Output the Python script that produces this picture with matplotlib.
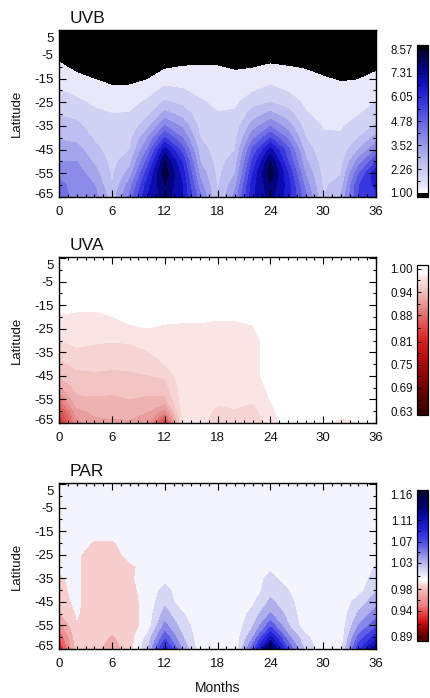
import numpy as np
import matplotlib
matplotlib.use("Agg")
import matplotlib.pyplot as plt
from matplotlib.colors import LinearSegmentedColormap, Normalize
from matplotlib.cm import ScalarMappable
from matplotlib.transforms import ScaledTranslation
from matplotlib.ticker import FixedLocator

plt.rcParams['font.family'] = ['Liberation Sans', 'DejaVu Sans']

# ---------------------------------------------------------------- data
months = np.arange(0, 37, 2)
latitudes = np.array([5.5, 0, -5, -10, -15, -20, -25, -30, -35, -40, -45, -50, -55, -60, -65])

# one list per month column, values from north (5.5) to south (-65)
uvb_by_month = [
    [0.27, 0.56, 0.84, 1.11, 1.38, 1.66, 1.95, 2.24, 2.53, 2.84, 3.17, 3.52, 3.97, 4.34, 4.47],
    [0.05, 0.24, 0.55, 0.84, 1.15, 1.44, 1.75, 2.07, 2.40, 2.68, 3.13, 3.52, 3.84, 3.90, 3.84],
    [0.05, 0.15, 0.43, 0.70, 0.98, 1.25, 1.52, 1.76, 1.97, 2.18, 2.45, 2.77, 3.15, 3.52, 3.84],
    [0.05, 0.07, 0.32, 0.59, 0.85, 1.11, 1.38, 1.64, 1.74, 1.85, 1.95, 2.05, 2.15, 2.24, 2.51],
    [0.05, 0.05, 0.28, 0.56, 0.84, 1.13, 1.40, 1.67, 1.87, 2.07, 2.26, 2.66, 3.15, 3.84, 4.34],
    [0.05, 0.05, 0.18, 0.57, 0.96, 1.35, 1.74, 2.11, 2.64, 3.44, 4.16, 4.98, 5.73, 6.36, 6.68],
    [0.05, 0.05, 0.49, 0.91, 1.34, 1.80, 2.34, 3.13, 4.16, 5.47, 6.99, 7.94, 8.38, 7.94, 7.63],
    [0.05, 0.33, 0.67, 1.01, 1.33, 1.68, 2.10, 2.64, 3.37, 4.16, 5.06, 5.96, 6.36, 6.68, 6.68],
    [0.33, 0.58, 0.80, 1.03, 1.26, 1.48, 1.69, 1.88, 2.07, 2.25, 2.58, 2.89, 3.33, 3.78, 4.34],
    [0.49, 0.68, 0.84, 1.01, 1.18, 1.35, 1.52, 1.66, 1.74, 1.83, 1.91, 2.00, 2.08, 2.16, 2.24],
    [0.33, 0.55, 0.74, 0.94, 1.13, 1.33, 1.52, 1.71, 1.90, 2.08, 2.25, 2.58, 2.90, 3.33, 3.78],
    [0.04, 0.37, 0.67, 0.96, 1.27, 1.56, 2.02, 2.55, 3.21, 3.97, 4.91, 5.54, 6.05, 6.43, 6.55],
    [0.05, 0.39, 0.74, 1.08, 1.42, 1.81, 2.27, 3.08, 4.09, 5.42, 6.92, 7.94, 8.38, 7.81, 7.50],
    [0.14, 0.44, 0.73, 1.01, 1.29, 1.57, 1.99, 2.51, 3.21, 4.00, 4.99, 5.42, 6.05, 6.36, 6.36],
    [0.40, 0.60, 0.77, 0.96, 1.13, 1.31, 1.49, 1.69, 1.98, 2.25, 2.62, 3.01, 3.46, 3.90, 4.34],
    [0.44, 0.60, 0.74, 0.88, 1.03, 1.16, 1.30, 1.45, 1.59, 1.71, 1.81, 1.92, 2.03, 2.14, 2.24],
    [0.34, 0.51, 0.66, 0.81, 0.96, 1.11, 1.26, 1.40, 1.56, 1.71, 1.87, 2.03, 2.20, 2.53, 2.96],
    [0.15, 0.38, 0.58, 0.78, 0.98, 1.18, 1.39, 1.59, 1.90, 2.25, 2.87, 3.76, 4.66, 5.35, 5.42],
    [0.14, 0.41, 0.65, 0.90, 1.14, 1.38, 1.64, 1.96, 2.33, 3.11, 4.11, 5.39, 6.55, 6.24, 5.73],
]

uva_by_month = [
    [1.0, 1.0, 1.0, 1.0, 0.990, 0.983, 0.976, 0.969, 0.960, 0.950, 0.938, 0.918, 0.888, 0.850, 0.815],
    [1.0, 1.0, 0.997, 0.992, 0.988, 0.982, 0.977, 0.973, 0.966, 0.957, 0.950, 0.943, 0.935, 0.918, 0.900],
    [1.0, 1.0, 0.998, 0.993, 0.987, 0.982, 0.977, 0.971, 0.965, 0.958, 0.951, 0.944, 0.936, 0.926, 0.918],
    [1.0, 1.0, 1.0, 0.998, 0.991, 0.984, 0.977, 0.970, 0.963, 0.957, 0.950, 0.943, 0.935, 0.928, 0.920],
    [1.0, 1.0, 1.0, 1.0, 0.999, 0.990, 0.981, 0.971, 0.964, 0.957, 0.951, 0.944, 0.938, 0.929, 0.920],
    [1.0, 1.0, 1.0, 1.0, 1.0, 0.992, 0.984, 0.976, 0.968, 0.961, 0.953, 0.945, 0.935, 0.923, 0.907],
    [1.0, 1.0, 1.0, 1.0, 1.0, 0.987, 0.983, 0.978, 0.974, 0.9695, 0.956, 0.946, 0.935, 0.900, 0.830],
    [1.0, 1.0, 1.0, 1.0, 1.0, 0.987, 0.982, 0.980, 0.979, 0.978, 0.978, 0.977, 0.976, 0.975, 0.974],
    [1.0, 1.0, 1.0, 1.0, 1.0, 0.987, 0.982, 0.978, 0.978, 0.978, 0.978, 0.978, 0.978, 0.975, 0.972],
    [1.0, 1.0, 1.0, 1.0, 1.0, 0.986, 0.981, 0.978, 0.978, 0.978, 0.978, 0.977, 0.972, 0.966, 0.963],
    [1.0, 1.0, 1.0, 1.0, 1.0, 0.986, 0.981, 0.978, 0.978, 0.978, 0.978, 0.977, 0.973, 0.968, 0.965],
    [1.0, 1.0, 1.0, 1.0, 1.0, 0.988, 0.983, 0.972, 0.972, 0.972, 0.972, 0.972, 0.971, 0.9645, 0.961],
    [1.0, 1.0, 1.0, 1.0, 1.0, 1.0, 1.0, 1.0, 1.0, 1.0, 1.0, 0.990, 0.985, 0.978, 0.974],
    [1.0, 1.0, 1.0, 1.0, 1.0, 1.0, 1.0, 1.0, 1.0, 1.0, 1.0, 1.0, 1.0, 1.0, 0.996],
    [1.0, 1.0, 1.0, 1.0, 1.0, 1.0, 1.0, 1.0, 1.0, 1.0, 1.0, 1.0, 1.0, 1.0, 1.0],
    [1.0, 1.0, 1.0, 1.0, 1.0, 1.0, 1.0, 1.0, 1.0, 1.0, 1.0, 1.0, 1.0, 1.0, 0.988],
    [1.0, 1.0, 1.0, 1.0, 1.0, 1.0, 1.0, 1.0, 1.0, 1.0, 1.0, 1.0, 1.0, 0.989, 0.980],
    [1.0, 1.0, 1.0, 1.0, 1.0, 1.0, 1.0, 1.0, 1.0, 1.0, 1.0, 1.0, 1.0, 1.0, 0.983],
    [1.0, 1.0, 1.0, 1.0, 1.0, 1.0, 1.0, 1.0, 1.0, 1.0, 1.0, 1.0, 1.0, 1.0, 1.0],
]

par_by_month = [
    [1.0, 1.0, 1.0, 1.0, 1.0, 1.0, 1.0, 0.996, 0.994, 0.993, 0.991, 0.978, 0.958, 0.935, 0.918],
    [1.0, 1.0, 1.0, 1.0, 1.0, 1.0, 0.997, 0.997, 0.997, 0.997, 0.997, 0.996, 0.994, 0.990, 0.985],
    [1.0, 1.0, 1.0, 1.0, 1.0, 0.9935, 0.988, 0.988, 0.988, 0.988, 0.988, 0.988, 0.988, 0.987, 0.985],
    [1.0, 1.0, 1.0, 1.0, 1.0, 0.9935, 0.988, 0.988, 0.988, 0.988, 0.988, 0.988, 0.985, 0.978, 0.970],
    [1.0, 1.0, 1.0, 1.0, 1.0, 1.0, 1.0, 0.992, 0.993, 0.991, 0.989, 0.988, 0.988, 0.988, 0.988],
    [1.0, 1.0, 1.0, 1.0, 1.0, 1.0, 1.0, 1.0, 1.0, 1.0, 1.0, 1.0, 1.0, 1.0135, 1.022],
    [1.0, 1.0, 1.0, 1.0, 1.0, 1.0, 1.0, 1.0, 1.005, 1.015, 1.021, 1.031, 1.044, 1.065, 1.095],
    [1.0, 1.0, 1.0, 1.0, 1.0, 1.0, 1.0, 1.0, 1.0, 1.0, 1.0, 1.011, 1.018, 1.026, 1.038],
    [1.0, 1.0, 1.0, 1.0, 1.0, 1.0, 1.0, 1.0, 1.0, 1.0, 1.0, 1.0, 1.0, 1.0, 1.0],
    [1.0, 1.0, 1.0, 1.0, 1.0, 1.0, 1.0, 1.0, 1.0, 1.0, 1.0, 1.0, 1.0, 1.0, 1.0],
    [1.0, 1.0, 1.0, 1.0, 1.0, 1.0, 1.0, 1.0, 1.0, 1.0, 1.0, 1.0, 1.0, 1.0, 0.999],
    [1.0, 1.0, 1.0, 1.0, 1.0, 1.0, 1.0, 1.0, 1.0, 1.0, 1.007, 1.015, 1.023, 1.038, 1.065],
    [1.0, 1.0, 1.0, 1.0, 1.0, 1.0, 1.0, 1.005, 1.016, 1.020, 1.028, 1.041, 1.064, 1.104, 1.150],
    [1.0, 1.0, 1.0, 1.0, 1.0, 1.0, 1.0, 1.0, 1.0, 1.0103, 1.015, 1.020, 1.026, 1.045, 1.070],
    [1.0, 1.0, 1.0, 1.0, 1.0, 1.0, 1.0, 1.0, 1.0, 1.0, 1.0, 1.0, 1.0, 1.013, 1.020],
    [1.0, 1.0, 1.0, 1.0, 1.0, 1.0, 1.0, 1.0, 1.0, 1.0, 1.0, 1.0, 1.0, 1.0, 1.0],
    [1.0, 1.0, 1.0, 1.0, 1.0, 1.0, 1.0, 1.0, 1.0, 1.0, 1.0, 1.0, 1.0, 1.0, 1.005],
    [1.0, 1.0, 1.0, 1.0, 1.0, 1.0, 1.0, 1.0, 1.0, 1.004, 1.016, 1.027, 1.040, 1.059, 1.080],
    [1.0, 1.0, 1.0, 1.0, 1.0, 1.0, 1.0, 1.011, 1.017, 1.023, 1.034, 1.047, 1.065, 1.092, 1.130],
]

panel_titles = ["UVB", "UVA", "PAR"]
uvb_ticks = [1.00, 2.26, 3.52, 4.78, 6.05, 7.31, 8.57]
uva_ticks = [0.63, 0.69, 0.75, 0.81, 0.88, 0.94, 1.00]
par_ticks = [0.89, 0.94, 0.98, 1.03, 1.07, 1.11, 1.16]
lat_ticks = [5, -5, -15, -25, -35, -45, -55, -65]
month_ticks = [0, 6, 12, 18, 24, 30, 36]


# ---------------------------------------------------------------- colour scales
def value_cmap(name, vmin, vmax, nodes):
    pos = [(v - vmin) / (vmax - vmin) for v, _ in nodes]
    cols = [tuple(c / 255.0 for c in rgb) for _, rgb in nodes]
    return LinearSegmentedColormap.from_list(name, list(zip(pos, cols)), N=512)


uvb_cmap = value_cmap("uvb", 1.0, 8.57, [
    (1.00, (255, 255, 255)), (1.315, (232, 232, 250)), (1.946, (210, 210, 245)),
    (2.577, (190, 190, 240)), (3.208, (165, 165, 236)), (3.84, (140, 140, 232)),
    (4.47, (113, 113, 229)), (5.10, (85, 85, 226)), (5.73, (55, 55, 221)),
    (6.36, (30, 30, 210)), (6.99, (12, 12, 175)), (7.62, (3, 3, 125)),
    (8.25, (0, 0, 70)), (8.57, (0, 0, 45))])
uvb_cmap.set_under("black")
uvb_cmap.set_over("black")

uva_cmap = value_cmap("uva", 0.63, 1.0, [
    (0.63, (60, 0, 0)), (0.69, (110, 0, 0)), (0.75, (165, 10, 10)),
    (0.81, (215, 30, 30)), (0.88, (228, 110, 110)), (0.915, (233, 158, 158)),
    (0.946, (242, 196, 196)), (0.977, (250, 228, 228)), (0.99, (255, 255, 255)),
    (1.00, (255, 255, 255))])
uva_cmap.set_under((60 / 255, 0, 0))
uva_cmap.set_over("white")

par_cmap = value_cmap("par", 0.89, 1.16, [
    (0.89, (90, 0, 0)), (0.905, (150, 0, 0)), (0.92, (215, 20, 20)),
    (0.935, (230, 70, 70)), (0.95, (238, 130, 130)), (0.9725, (240, 172, 172)),
    (0.9875, (248, 206, 206)), (0.997, (255, 255, 255)), (1.0025, (244, 245, 252)),
    (1.0175, (214, 214, 245)), (1.0325, (175, 175, 238)), (1.0475, (135, 135, 233)),
    (1.0625, (95, 95, 230)), (1.0775, (60, 60, 226)), (1.0925, (35, 35, 215)),
    (1.1075, (20, 20, 190)), (1.1225, (5, 5, 150)), (1.1375, (0, 0, 110)),
    (1.16, (0, 0, 60))])
par_cmap.set_under((90 / 255, 0, 0))
par_cmap.set_over((0, 0, 60 / 255))

panels = [
    (np.array(uvb_by_month).T, uvb_cmap, (1.0, 8.57), np.linspace(1.0, 8.57, 13), uvb_ticks),
    (np.array(uva_by_month).T, uva_cmap, (0.63, 1.0), np.linspace(0.63, 1.0, 25), uva_ticks),
    (np.array(par_by_month).T, par_cmap, (0.89, 1.16), np.linspace(0.89, 1.16, 19), par_ticks),
]

# ---------------------------------------------------------------- layout (pixels)
W, H = 430, 698
fig = plt.figure(figsize=(W / 100, H / 100), dpi=100)
fig.patch.set_facecolor("white")

axes_px = [(59.3, 30, 376, 197), (59.3, 257, 376, 423), (59.3, 483, 376, 649)]
cbar_px = [(417, 45, 428, 197), (417, 265, 428, 415), (417, 490, 428, 641)]


def px_rect(l, t, r, b):
    return [l / W, 1 - b / H, (r - l) / W, (b - t) / H]


text_col = "#111111"

for i, ((field, cmap, (vmin, vmax), levels, cticks), apx, cpx) in enumerate(
        zip(panels, axes_px, cbar_px)):
    ax = fig.add_axes(px_rect(*apx))
    norm = Normalize(vmin=vmin, vmax=vmax)
    ax.contourf(months, latitudes, field, levels=levels, cmap=cmap, norm=norm,
                extend="both")
    ax.set_xlim(0, 36)
    ax.set_ylim(-65, 5.5)

    ax.set_xticks(month_ticks)
    ax.set_xticks(np.arange(0, 37, 1), minor=True)
    ax.set_yticks(lat_ticks)
    ax.set_yticks([0, -10, -20, -30, -40, -50, -60], minor=True)
    ax.set_yticklabels([str(v) for v in lat_ticks])
    ax.tick_params(which="both", direction="in", top=True, right=True,
                   colors="black", labelcolor=text_col, labelsize=9.5, width=0.8)
    ax.tick_params(which="major", length=5)
    ax.tick_params(which="minor", length=2.5)
    ax.tick_params(axis="y", pad=4)
    ax.tick_params(axis="x", pad=6.5)
    for sp in ax.spines.values():
        sp.set_linewidth(1.0)
        sp.set_color("black")

    # keep the end labels of the latitude axis inside the frame
    ylabels = ax.get_yticklabels()
    ylabels[0].set_transform(ylabels[0].get_transform()
                             + ScaledTranslation(0, -0.065, fig.dpi_scale_trans))
    ylabels[-1].set_transform(ylabels[-1].get_transform()
                              + ScaledTranslation(0, 0.035, fig.dpi_scale_trans))

    # panel title and axis title
    fig.text(70 / W, 1 - (apx[1] - 7) / H, panel_titles[i], fontsize=12.5,
             color=text_col, ha="left", va="baseline")
    fig.text(17 / W, 1 - ((apx[1] + apx[3]) / 2) / H, "Latitude", fontsize=9.5,
             rotation=90, color=text_col, ha="center", va="center")

    # colour bar
    cax = fig.add_axes(px_rect(*cpx))
    cb = fig.colorbar(ScalarMappable(norm=norm, cmap=cmap), cax=cax,
                      extend="both", extendrect=True, extendfrac=0.028,
                      ticks=cticks)
    cb.ax.set_yticklabels(["%.2f" % t for t in cticks])
    cb.outline.set_linewidth(0.9)
    cb.outline.set_edgecolor("black")
    cax.yaxis.set_ticks_position("left")
    cax.yaxis.set_minor_locator(FixedLocator(
        [(a + b) / 2 for a, b in zip(cticks[:-1], cticks[1:])]))
    cax.tick_params(which="both", direction="in", labelsize=8.3,
                    labelcolor=text_col, pad=3, width=0.7)
    cax.tick_params(which="major", length=3)
    cax.tick_params(which="minor", length=1.8)

fig.text(217.7 / W, 1 - 688 / H, "Months", fontsize=10, color=text_col,
         ha="center", va="center")

fig.savefig("out.png", dpi=100, facecolor="white")
